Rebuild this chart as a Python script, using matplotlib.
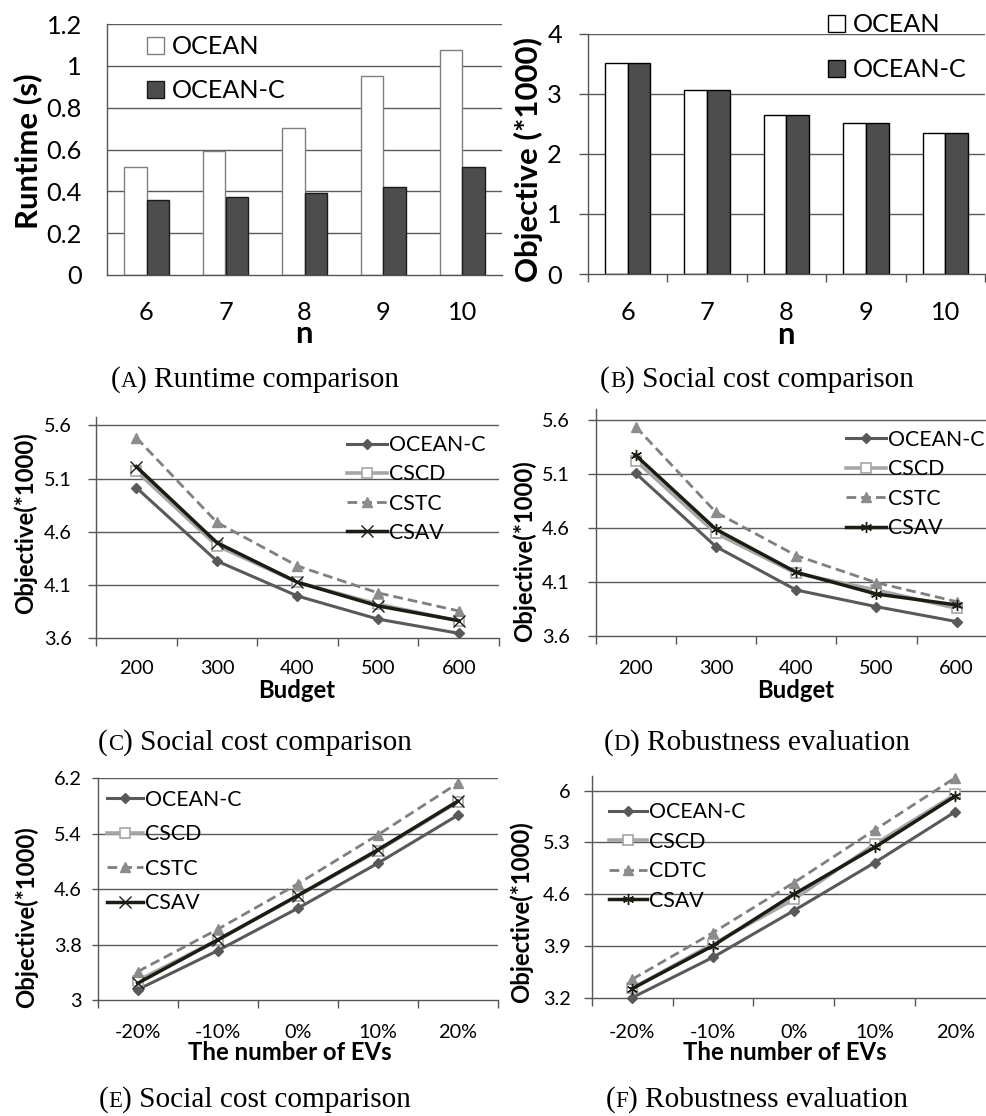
import numpy as np
import matplotlib
matplotlib.use("Agg")
import matplotlib.pyplot as plt
from matplotlib.textpath import TextPath
from matplotlib.font_manager import FontProperties
from matplotlib.offsetbox import TextArea, HPacker, AnnotationBbox

# ---------------- data ----------------
n_labels = ['6', '7', '8', '9', '10']
runtime_ocean = [0.514, 0.594, 0.705, 0.951, 1.076]
runtime_oceanc = [0.358, 0.374, 0.392, 0.420, 0.514]
cost_ocean = [3.52, 3.07, 2.65, 2.51, 2.35]
cost_oceanc = [3.52, 3.07, 2.65, 2.51, 2.35]

budget_labels = ['200', '300', '400', '500', '600']
c_oceanc = [5.015, 4.326, 3.997, 3.780, 3.647]
c_cscd = [5.170, 4.470, 4.126, 3.920, 3.763]
c_cstc = [5.484, 4.689, 4.279, 4.026, 3.857]
c_csav = [5.212, 4.498, 4.126, 3.904, 3.766]

d_oceanc = [5.104, 4.426, 4.025, 3.871, 3.733]
d_cscd = [5.221, 4.549, 4.179, 4.025, 3.856]
d_cstc = [5.535, 4.743, 4.343, 4.093, 3.917]
d_csav = [5.270, 4.586, 4.189, 3.988, 3.887]

ev_labels = ['-20%', '-10%', '0%', '10%', '20%']
e_oceanc = [3.154, 3.715, 4.324, 4.972, 5.663]
e_cscd = [3.283, 3.869, 4.502, 5.150, 5.855]
e_cstc = [3.413, 4.022, 4.675, 5.380, 6.124]
e_csav = [3.245, 3.869, 4.507, 5.164, 5.865]

f_oceanc = [3.200, 3.746, 4.377, 5.026, 5.716]
f_cscd = [3.326, 3.926, 4.530, 5.274, 5.950]
f_cdtc = [3.448, 4.079, 4.755, 5.468, 6.176]
f_csav = [3.322, 3.903, 4.598, 5.233, 5.928]

a_yticks = [0, 0.2, 0.4, 0.6, 0.8, 1.0, 1.2]
a_yticklabels = ['0', '0.2', '0.4', '0.6', '0.8', '1', '1.2']
b_yticks = [0, 1, 2, 3, 4]
b_yticklabels = ['0', '1', '2', '3', '4']
cd_yticks = [3.6, 4.1, 4.6, 5.1, 5.6]
cd_yticklabels = ['3.6', '4.1', '4.6', '5.1', '5.6']
e_yticks = [3.0, 3.8, 4.6, 5.4, 6.2]
e_yticklabels = ['3', '3.8', '4.6', '5.4', '6.2']
f_yticks = [3.2, 3.9, 4.6, 5.3, 6.0]
f_yticklabels = ['3.2', '3.9', '4.6', '5.3', '6']

captions = [('A', 'Runtime comparison'), ('B', 'Social cost comparison'),
            ('C', 'Social cost comparison'), ('D', 'Robustness evaluation'),
            ('E', 'Social cost comparison'), ('F', 'Robustness evaluation')]

# ---------------- setup ----------------
W, H, DPI = 987, 1116, 100
SANS = ['Lato', 'DejaVu Sans']
SERIF = ['Liberation Serif', 'DejaVu Serif']
plt.rcParams['font.family'] = SANS

fig = plt.figure(figsize=(W / DPI, H / DPI), dpi=DPI)


def fit(s, px, family=SANS, weight='normal'):
    tp = TextPath((0, 0), s, size=100, prop=FontProperties(family=family, weight=weight))
    return px / tp.get_extents().width * 100 * 72 / DPI


def PT(px):
    return px * 72 / DPI


def ax_at(l, t, r, b):
    return fig.add_axes([l / W, 1 - b / H, (r - l) / W, (b - t) / H])


def ftext(x, y, s, va='center', **kw):
    fig.text(x / W, 1 - y / H, s, ha='center', va=va, **kw)


GRID = '#5a5a5a'
SPINE = '#555555'

fs_tick_ab = fit('1.2', 32)
fs_lab_ab = fit('Runtime (s)', 152, weight='bold')
fs_leg_ab = fit('OCEAN', 84)
fs_tick = fit('200', 33)
fs_lab = fit('Objective(*1000)', 180, weight='bold')
fs_leg = fit('OCEAN-C', 95)
fs_cap = fit('(B) Social cost comparison', 316, family=SERIF)

x = np.arange(5)


def base_axes(ax, ylo, yhi, yticks, yticklabels, cats, fs, ytick_len, ypad, xpad, xminor_len):
    ax.set_xlim(-0.5, 4.5)
    ax.set_ylim(ylo, yhi)
    ax.set_yticks(yticks)
    ax.set_yticklabels(yticklabels, fontsize=fs)
    ax.set_xticks(x)
    ax.set_xticklabels(cats, fontsize=fs)
    if xminor_len > 0:
        ax.set_xticks(np.arange(-0.5, 5.0, 1.0), minor=True)
        ax.tick_params(axis='x', which='minor', length=PT(xminor_len), width=1, color=SPINE)
    ax.tick_params(axis='x', which='major', length=0, pad=PT(xpad))
    ax.tick_params(axis='y', length=PT(ytick_len), width=1, color=SPINE, pad=PT(ypad))
    for s in ['top', 'right']:
        ax.spines[s].set_visible(False)
    for s in ['left', 'bottom']:
        ax.spines[s].set_color(SPINE)
        ax.spines[s].set_linewidth(1.0)
    for yv in yticks[1:]:
        ax.axhline(yv, color=GRID, lw=1.0, zorder=0.5)
    ax.patch.set_alpha(0)


# ---------------- panel A ----------------
axA = ax_at(107, 24, 502, 275)
base_axes(axA, 0, 1.2, a_yticks, a_yticklabels, n_labels, fs_tick_ab, 0, 25, 26, 0)
for yv in a_yticks[1:]:
    pass
bw = 0.29
bA1 = axA.bar(x - bw / 2, runtime_ocean, bw, color='white', edgecolor='#7f7f7f', lw=1, zorder=2, label='OCEAN')
bA2 = axA.bar(x + bw / 2, runtime_oceanc, bw, color='#4d4d4d', edgecolor='#1a1a1a', lw=1, zorder=2, label='OCEAN-C')
fpx = fs_leg_ab / 72 * DPI
axA.legend(handles=[bA1, bA2], loc='center left', bbox_to_anchor=(147 / W, 1 - 68.5 / H),
           bbox_transform=fig.transFigure, frameon=False, fontsize=fs_leg_ab, borderpad=0,
           borderaxespad=0, handlelength=17 / fpx, handleheight=17 / fpx, handletextpad=8 / fpx,
           labelspacing=51 / fpx - 1.2)
ftext(28, 151, 'Runtime (s)', rotation=90, fontsize=fs_lab_ab, fontweight='bold')
ftext(304, 343, 'n', va='baseline', fontsize=fs_lab_ab, fontweight='bold')

# ---------------- panel B ----------------
axB = ax_at(588, 33.7, 985, 274)
base_axes(axB, 0, 4, b_yticks, b_yticklabels, n_labels, fs_tick_ab, 9, 17, 27, 8)
bw = 0.286
bB1 = axB.bar(x - bw / 2, cost_ocean, bw, color='white', edgecolor='black', lw=1, zorder=2, label='OCEAN')
bB2 = axB.bar(x + bw / 2, cost_oceanc, bw, color='#4d4d4d', edgecolor='black', lw=1, zorder=2, label='OCEAN-C')
axB.legend(handles=[bB1, bB2], loc='center left', bbox_to_anchor=(828 / W, 1 - 47 / H),
           bbox_transform=fig.transFigure, frameon=False, fontsize=fs_leg_ab, borderpad=0,
           borderaxespad=0, handlelength=17 / fpx, handleheight=17 / fpx, handletextpad=8 / fpx,
           labelspacing=52 / fpx - 1.2)
ftext(528, 160, 'Objective (*1000)', rotation=90, fontsize=fit('Objective (*1000)', 243, weight='bold'),
      fontweight='bold')
ftext(786, 344, 'n', va='baseline', fontsize=fs_lab_ab, fontweight='bold')


# ---------------- line panels ----------------
def draw_lines(ax, oc, cscd, cstc, csav, names, star):
    h1, = ax.plot(x, oc, color='#595959', lw=2.2, marker='D', ms=5.5, mfc='#595959', mec='#595959',
                  label=names[0], clip_on=False, zorder=3)
    h2, = ax.plot(x, cscd, color='#a6a6a6', lw=2.6, marker='s', ms=7, mfc='white', mec='#a6a6a6',
                  mew=1.2, label=names[1], clip_on=False, zorder=3.1)
    h3, = ax.plot(x, cstc, color='#7f7f7f', lw=2.0, ls=(0, (3.5, 1.8)), marker='^', ms=7.5,
                  mfc='#8c8c8c', mec='#8c8c8c', label=names[2], clip_on=False, zorder=3.2)
    mk = (6, 2, 0) if star else 'x'
    h4, = ax.plot(x, csav, color='#1c1c12', lw=2.5, marker=mk, ms=8, mec='#1c1c12', mew=1.0,
                  label=names[3], clip_on=False, zorder=3.3)
    return [h1, h2, h3, h4]


lpx = fs_leg / 72 * DPI


def line_legend(ax, hs, xl, yc, pitch, hlen):
    ax.legend(handles=hs, loc='center left', bbox_to_anchor=(xl / W, 1 - yc / H),
              bbox_transform=fig.transFigure, frameon=False, fontsize=fs_leg, borderpad=0,
              borderaxespad=0, handlelength=hlen / lpx, handletextpad=2 / lpx,
              labelspacing=pitch / lpx - 1.2)


names_std = ['OCEAN-C', 'CSCD', 'CSTC', 'CSAV']

# C
axC = ax_at(96, 416.8, 499, 638.3)
base_axes(axC, 3.6, 5.68, cd_yticks, cd_yticklabels, budget_labels, fs_tick, 8, 16, 22, 8)
hs = draw_lines(axC, c_oceanc, c_cscd, c_cstc, c_csav, names_std, False)
line_legend(axC, hs, 347, 489, 34.8, 40)
ftext(25, 523, 'Objective(*1000)', rotation=90, fontsize=fs_lab, fontweight='bold')
ftext(297, 690, 'Budget', fontsize=fs_lab, fontweight='bold')

# D
axD = ax_at(595.6, 408.8, 996.8, 636)
base_axes(axD, 3.6, 5.7, cd_yticks, cd_yticklabels, budget_labels, fs_tick, 8, 18, 24, 8)
hs = draw_lines(axD, d_oceanc, d_cscd, d_cstc, d_csav, names_std, True)
line_legend(axD, hs, 846, 484, 35.2, 40)
ftext(524, 551, 'Objective(*1000)', rotation=90, fontsize=fs_lab, fontweight='bold')
ftext(796, 690, 'Budget', fontsize=fs_lab, fontweight='bold')

# E
axE = ax_at(97.7, 778, 497.7, 1000.3)
base_axes(axE, 3.0, 6.2, e_yticks, e_yticklabels, ev_labels, fs_tick, 6, 10, 24, 8)
hs = draw_lines(axE, e_oceanc, e_cscd, e_cstc, e_csav, names_std, False)
line_legend(axE, hs, 107, 851.5, 40, 36)
ftext(26, 917, 'Objective(*1000)', rotation=90, fontsize=fs_lab, fontweight='bold')
ftext(290, 1053, 'The number of EVs', fontsize=fs_lab, fontweight='bold')

# F
axF = ax_at(591.7, 775.9, 995.8, 997.7)
base_axes(axF, 3.2, 6.2, f_yticks, f_yticklabels, ev_labels, fs_tick, 8, 13, 26, 8)
hs = draw_lines(axF, f_oceanc, f_cscd, f_cdtc, f_csav, ['OCEAN-C', 'CSCD', 'CDTC', 'CSAV'], True)
line_legend(axF, hs, 609, 856.5, 35, 38)
ftext(521, 912, 'Objective(*1000)', rotation=90, fontsize=fs_lab, fontweight='bold')
ftext(785, 1053, 'The number of EVs', fontsize=fs_lab, fontweight='bold')

# ---------------- captions (small-caps letter) ----------------
cap_pos = [(255, 380), (757, 380), (255, 743), (757, 743), (255, 1100), (757, 1100)]
for (cx, cy), (letter, txt) in zip(cap_pos, captions):
    big = dict(fontsize=fs_cap, family=SERIF, color='black')
    small = dict(fontsize=fs_cap * 0.78, family=SERIF, color='black')
    box = HPacker(children=[TextArea('(', textprops=big), TextArea(letter, textprops=small),
                            TextArea(') ' + txt, textprops=big)],
                  align='baseline', pad=0, sep=0)
    ab = AnnotationBbox(box, (cx / W, 1 - cy / H), xycoords='figure fraction', frameon=False,
                        box_alignment=(0.5, 0.5), pad=0)
    fig.add_artist(ab)

fig.savefig('out.png', dpi=DPI)
